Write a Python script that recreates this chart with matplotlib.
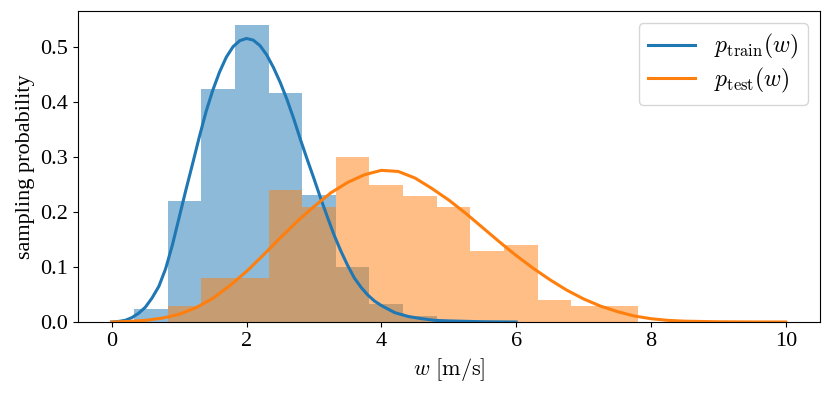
import matplotlib
matplotlib.use("Agg")
import matplotlib.pyplot as plt
import numpy as np

plt.rcParams['font.family'] = 'serif'
plt.rcParams['font.serif'] = ['Liberation Serif', 'DejaVu Serif']
plt.rcParams['mathtext.fontset'] = 'cm'

# Histogram data (bin edges and sampling probabilities)
train_edges = [0.33, 0.83, 1.33, 1.83, 2.33, 2.82, 3.32, 3.82, 4.32, 4.82]
train_probs = [0.023, 0.220, 0.424, 0.541, 0.416, 0.231, 0.100, 0.032, 0.011]

test_edges = [0.83, 1.33, 1.83, 2.33, 2.82, 3.32, 3.82, 4.32, 4.82, 5.32,
              5.82, 6.32, 6.82, 7.32, 7.81]
test_probs = [0.030, 0.080, 0.080, 0.240, 0.210, 0.300, 0.250, 0.230, 0.210,
              0.130, 0.140, 0.040, 0.029, 0.029]

# Density curves
train_w = [0.0, 0.1, 0.2, 0.3, 0.4, 0.5, 0.6, 0.7, 0.8, 0.9, 1.0, 1.1, 1.2,
           1.3, 1.4, 1.5, 1.6, 1.7, 1.8, 1.9, 2.0, 2.1, 2.2, 2.3, 2.4, 2.5,
           2.6, 2.7, 2.8, 2.9, 3.0, 3.1, 3.2, 3.3, 3.4, 3.5, 3.6, 3.7, 3.8,
           3.9, 4.0, 4.2, 4.4, 4.6, 4.8, 5.0, 5.5, 6.0]
train_p = [0.000, 0.001, 0.003, 0.008, 0.016, 0.027, 0.044, 0.065, 0.097,
           0.140, 0.190, 0.240, 0.288, 0.337, 0.383, 0.422, 0.455, 0.482,
           0.501, 0.512, 0.516, 0.513, 0.503, 0.486, 0.463, 0.436, 0.405,
           0.370, 0.332, 0.296, 0.261, 0.225, 0.191, 0.158, 0.129, 0.103,
           0.080, 0.063, 0.049, 0.038, 0.030, 0.017, 0.010, 0.006, 0.003,
           0.002, 0.0005, 0.0]

test_w = [0.0, 0.25, 0.5, 0.75, 1.0, 1.25, 1.5, 1.75, 2.0, 2.25, 2.5, 2.75,
          3.0, 3.25, 3.5, 3.75, 4.0, 4.25, 4.5, 4.75, 5.0, 5.25, 5.5, 5.75,
          6.0, 6.25, 6.5, 6.75, 7.0, 7.25, 7.5, 7.75, 8.0, 8.25, 8.5, 9.0,
          9.5, 10.0]
test_p = [0.000, 0.001, 0.003, 0.007, 0.014, 0.026, 0.043, 0.066, 0.092,
          0.122, 0.153, 0.183, 0.210, 0.235, 0.254, 0.268, 0.276, 0.274,
          0.262, 0.243, 0.222, 0.198, 0.172, 0.146, 0.121, 0.098, 0.077,
          0.058, 0.042, 0.029, 0.019, 0.011, 0.006, 0.003, 0.0015, 0.0004,
          0.0001, 0.0]

fig = plt.figure(figsize=(8.31, 3.95), dpi=100)
ax = fig.add_axes([78/831, 1 - 322/395, (819.5 - 78)/831, (322 - 11)/395])

ax.hist(train_edges[:-1], bins=train_edges, weights=train_probs,
        color='C0', alpha=0.5)
ax.hist(test_edges[:-1], bins=test_edges, weights=test_probs,
        color='C1', alpha=0.5)

ax.plot(train_w, train_p, color='C0', lw=2.2, label=r'$p_{\mathrm{train}}(w)$')
ax.plot(test_w, test_p, color='C1', lw=2.2, label=r'$p_{\mathrm{test}}(w)$')

ax.set_xlim(-0.5, 10.5)
ax.set_ylim(0, 0.566)
ax.set_xticks([0, 2, 4, 6, 8, 10])
ax.set_yticks([0.0, 0.1, 0.2, 0.3, 0.4, 0.5])
ax.set_yticklabels(['0.0', '0.1', '0.2', '0.3', '0.4', '0.5'])
ax.tick_params(labelsize=16)

ax.set_xlabel(r'$w\ [\mathrm{m/s}]$', fontsize=16)
ax.set_ylabel('sampling probability', fontsize=16)

ax.legend(loc='upper right', fontsize=17, borderaxespad=0.5,
          labelspacing=0.2)

fig.savefig('out.png', dpi=100)
